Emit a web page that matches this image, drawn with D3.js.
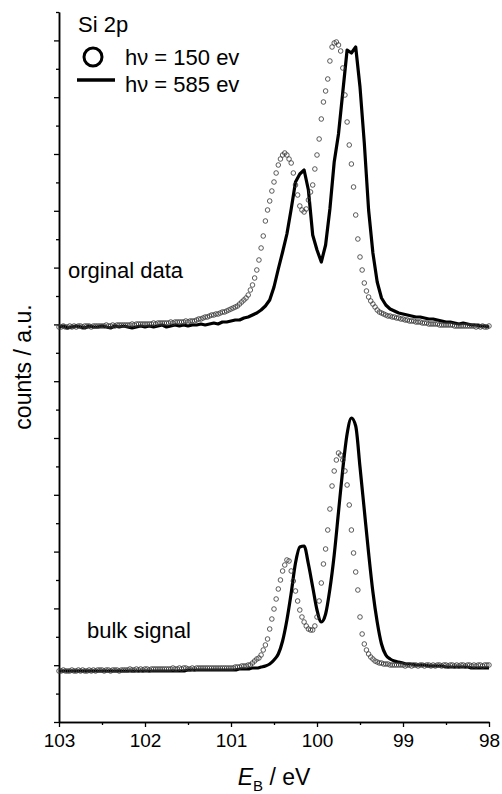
<!DOCTYPE html>
<html>
<head>
<meta charset="utf-8">
<script src="https://cdn.jsdelivr.net/npm/d3@7"></script>
<style>
  body { margin: 0; background: #fff; }
  text { font-family: "Liberation Sans", Arial, sans-serif; fill: #000; }
</style>
</head>
<body>
<div id="grafico"></div>
<script>
// binding energy grid (eV): circles sampled every 0.025 eV, lines every 0.05 eV
const eStart = 103, eEnd = 98
const circleStep = 0.025, lineStep = 0.05

// vertical offsets of the two stacked panels (counts, a.u.)
const origOffset = 395
const bulkOffset = 51

// orginal data, hv = 150 eV (open circles)
const origCircles = [
  0,0,1,0,0,1,0,1,0,1, 1,0,1,1,1,0,1,1,1,1, 1,1,2,1,1,2,1,2,2,2, 2,2,2,2,3,2,3,3,3,3,
  3,3,3,3,4,3,4,4,4,4, 4,4,5,4,5,5,5,5,5,6, 5,6,6,6,7,8,8,9,10,10, 11,12,12,13,13,14,15,15,16,17,
  18,19,20,21,23,25,27,29,32,37, 42,49,57,67,79,91,106,117,126,136, 145,154,162,168,172,174,172,168,164,154,
  142,132,121,117,115,118,127,135,142,158, 172,188,208,225,236,248,266,280,284,285, 282,276,259,232,205,182,163,140,112,88,
  70,57,44,36,30,26,23,20,17,15, 14,13,12,11,11,10,10,9,9,8, 8,7,7,6,6,6,5,5,5,4,
  4,4,3,3,3,3,3,2,2,2, 2,2,2,2,1,1,1,1,1,1, 1,1,1,1,0,1,0,1,0,0,1
]

// orginal data, hv = 585 eV (solid line)
const origLine = [
  0,1,-1,0,1,0,-1,1,0,0, 1,0,-1,1,0,1,0,-1,0,1, 0,1,0,1,2,0,1,2,1,2, 1,2,2,3,2,3,4,3,5,5,
  6,7,7,9,10,12,14,17,21,27, 40,58,75,93,118,145,153,157,137,92, 77,65,82,118,165,193,235,277,274,280,
  240,184,117,74,45,29,22,18,16,14, 13,12,11,10,10,9,8,8,7,6, 5,5,4,3,4,3,2,2,1,1,0
]

// bulk signal, hv = 150 eV (open circles)
const bulkCircles = [
  0,0,1,0,0,0,1,0,0,1, 0,1,0,0,1,0,1,0,1,1, 1,0,1,1,0,1,1,1,0,1, 1,1,1,2,1,1,2,1,2,1,
  2,2,1,2,2,2,2,2,2,2, 2,2,2,3,2,2,3,2,3,3, 2,2,3,2,3,3,3,3,3,3, 3,3,3,3,3,3,3,3,3,3,
  3,3,4,4,4,5,5,5,6,6, 8,10,12,13,16,21,26,32,42,52, 62,72,82,91,100,106,111,110,100,90,
  80,70,61,54,49,45,42,41,41,45, 54,70,88,107,122,141,162,185,200,211, 218,216,211,200,186,166,141,118,99,81,
  54,37,27,21,17,14,12,10,9,8, 8,7,7,7,6,6,6,6,6,6, 6,5,6,6,5,6,6,5,6,6,
  5,6,6,5,6,5,6,6,5,6, 6,5,6,6,5,6,5,6,6,5, 6,6,5,6,5,6,6,5,6,6,6
]

// bulk signal, hv = 585 eV (solid line)
const bulkLine = [
  0,0,0,0,0,0,0,0,0,0, 0,0,0,0,0,0,0,0,0,0, 0,0,0,0,0,0,0,0,0,0, 1,1,1,1,1,1,1,1,1,1,
  1,1,2,2,2,3,3,4,5,7, 11,17,30,51,78,108,124,125,107,84, 61,49,57,82,116,159,202,237,253,245,
  204,161,118,79,49,27,16,12,10,9, 8,7,7,6,6,6,5,5,5,5, 4,4,4,4,4,4,3,3,3,3,3
]

const xMajorTicks = [103, 102, 101, 100, 99, 98]
const xMinorTicks = [102.5, 101.5, 100.5, 99.5, 98.5]
const yTickCount = 26, yTickStep = 28.4

const legendItems = ["hν = 150 ev", "hν = 585 ev"]

const toPoints = (vals, step, offset) => vals.map((v, i) => ({ e: eStart - i * step, v: v + offset }))

const margin = {top: 12, right: 13, bottom: 72, left: 59},
  width = 430,
  height = 710

const svg = d3.select("#grafico")
  .append("svg")
    .attr("width", width + margin.left + margin.right)
    .attr("height", height + margin.top + margin.bottom)
  .append("g")
    .attr("transform", `translate(${margin.left},${margin.top})`)

const x = d3.scaleLinear().domain([eStart, eEnd]).range([0, width])
const y = d3.scaleLinear().domain([0, 710]).range([height, 0])

// axes
const yTicks = d3.range(yTickCount).map(k => k * yTickStep)
const styleAxis = g => {
  g.select(".domain").attr("stroke", "#000").attr("stroke-width", 1.5)
  g.selectAll(".tick line").attr("stroke", "#000").attr("stroke-width", 1.3)
}

svg.append("g")
  .attr("transform", `translate(0,${height})`)
  .call(d3.axisBottom(x).tickValues(xMinorTicks).tickSize(3).tickSizeOuter(0).tickFormat(""))
  .call(styleAxis)
svg.append("g")
  .attr("transform", `translate(0,${height})`)
  .call(d3.axisBottom(x).tickValues(xMajorTicks).tickSize(5).tickSizeOuter(0).tickPadding(7).tickFormat(d3.format("d")))
  .call(styleAxis)
  .call(g => g.selectAll(".tick text").attr("font-size", "19px").attr("font-family", null))

svg.append("g")
  .call(d3.axisLeft(y).tickValues(yTicks.filter((d, k) => k % 2 === 1)).tickSize(3).tickSizeOuter(0).tickFormat(""))
  .call(styleAxis)
svg.append("g")
  .call(d3.axisLeft(y).tickValues(yTicks.filter((d, k) => k % 2 === 0)).tickSize(5).tickSizeOuter(0).tickFormat(""))
  .call(styleAxis)

// curves: the measured 585 eV spectrum is drawn straight, the fitted bulk one smooth
const lineRaw = d3.line().x(d => x(d.e)).y(d => y(d.v))
const lineSmooth = d3.line().x(d => x(d.e)).y(d => y(d.v)).curve(d3.curveMonotoneX)

const series = [
  {name: "orig150", pts: toPoints(origCircles, circleStep, origOffset), type: "circle"},
  {name: "bulk150", pts: toPoints(bulkCircles, circleStep, bulkOffset), type: "circle"},
  {name: "orig585", pts: toPoints(origLine, lineStep, origOffset), type: "line", gen: lineRaw},
  {name: "bulk585", pts: toPoints(bulkLine, lineStep, bulkOffset), type: "line", gen: lineSmooth}
]

series.filter(s => s.type === "line").forEach(s => {
  svg.append("path")
    .datum(s.pts)
    .attr("fill", "none")
    .attr("stroke", "#000")
    .attr("stroke-width", 3.2)
    .attr("stroke-linejoin", "round")
    .attr("d", s.gen)
})

series.filter(s => s.type === "circle").forEach(s => {
  svg.append("g").selectAll("circle")
    .data(s.pts)
    .join("circle")
      .attr("cx", d => x(d.e))
      .attr("cy", d => y(d.v))
      .attr("r", 2.3)
      .attr("fill", "none")
      .attr("stroke", "#333")
      .attr("stroke-width", 0.8)
})

// panel labels
svg.append("text").attr("x", 9).attr("y", 266).attr("font-size", "22px").text("orginal data")
svg.append("text").attr("x", 28).attr("y", 626).attr("font-size", "22px").text("bulk signal")

// legend
svg.append("text").attr("x", 19).attr("y", 20).attr("font-size", "22px").text("Si 2p")
svg.append("circle").attr("cx", 34).attr("cy", 45).attr("r", 9)
  .attr("fill", "none").attr("stroke", "#000").attr("stroke-width", 3)
svg.append("line").attr("x1", 18).attr("x2", 56).attr("y1", 68).attr("y2", 68)
  .attr("stroke", "#000").attr("stroke-width", 3.5)
legendItems.forEach((t, i) => {
  svg.append("text").attr("x", 66).attr("y", 53 + i * 27).attr("font-size", "22px").text(t)
})

// axis titles
const xt = svg.append("text")
  .attr("x", width / 2)
  .attr("y", height + 63)
  .attr("text-anchor", "middle")
  .attr("font-size", "23px")
xt.append("tspan").attr("font-style", "italic").text("E")
xt.append("tspan").attr("font-size", "15px").attr("dy", 6).text("B")
xt.append("tspan").attr("dy", -6).text(" / eV")

svg.append("text")
  .attr("transform", `translate(-28,${height / 2}) rotate(-90)`)
  .attr("text-anchor", "middle")
  .attr("font-size", "23px")
  .text("counts / a.u.")
</script>
</body>
</html>
